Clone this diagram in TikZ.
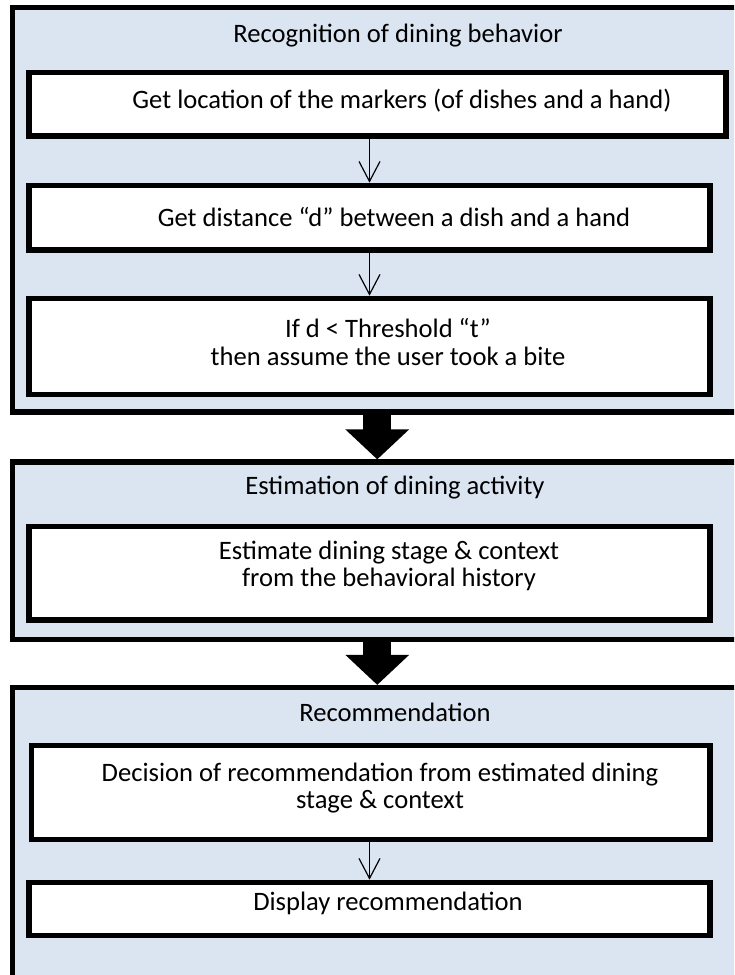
\documentclass[tikz,border=0pt]{standalone}
\usepackage{fontspec}
\setmainfont{Carlito}
\usetikzlibrary{arrows.meta}
\definecolor{panelblue}{RGB}{219,229,241}

\begin{document}
\begin{tikzpicture}[x=0.5pt,y=-0.5pt,
    panel/.style={draw=black, line width=2.6pt, fill=panelblue, inner sep=0pt},
    stepbox/.style={draw=black, line width=2.8pt, fill=white, inner sep=0pt},
    title/.style={font=\fontsize{13.3}{13.5}\selectfont, inner sep=0pt},
    boxtext/.style={font=\fontsize{13.3}{13.5}\selectfont, align=center, inner sep=0pt},
    flow/.style={-{Straight Barb[length=10pt,width=10.5pt]}, line width=0.6pt},
    bigflow/.style={-{Triangle[length=15pt,width=31pt]}, line width=14pt}]
    \useasboundingbox (0,0) rectangle (734,975);
    \clip (0,0) rectangle (734,975);

    % Paineis (a borda direita sai da figura)
    \node[panel, minimum width=364.75pt, minimum height=202.25pt] (recog) at (377.25,209.75) {};
    \node[panel, minimum width=364.75pt, minimum height=88.75pt] (estim) at (377.25,550.75) {};
    \node[panel, minimum width=364.75pt, minimum height=160pt] (recom) at (377.25,847.5) {};

    % Titulos
    \node[title] (recogtitle) at (398,36) {Recognition of dining behavior};
    \node[title] (estimtitle) at (395,488) {Estimation of dining activity};
    \node[title] (recomtitle) at (395,712) {Recommendation};

    % Caixas
    \node[stepbox, minimum width=348.5pt, minimum height=31.75pt] (markers) at (377.5,104.25) {};
    \node[stepbox, minimum width=340.5pt, minimum height=32.25pt] (distance) at (369.5,217.75) {};
    \node[stepbox, minimum width=340.5pt, minimum height=48pt] (threshold) at (369.5,346.5) {};
    \node[stepbox, minimum width=340.5pt, minimum height=46.75pt] (stage) at (369.5,573.25) {};
    \node[stepbox, minimum width=339.25pt, minimum height=47pt] (decision) at (370.75,792.5) {};
    \node[stepbox, minimum width=340.5pt, minimum height=26.5pt] (display) at (369.5,909) {};

    % Textos das caixas
    \node[boxtext] (markerstext) at (402,101) {Get location of the markers (of dishes and a hand)};
    \node[boxtext] (distancetext) at (394,217) {Get distance “d” between a dish and a hand};
    \node[boxtext] (thresholdtext) at (388,342) {If d < Threshold “t”\\then assume the user took a bite};
    \node[boxtext] (stagetext) at (389,566) {Estimate dining stage \& context\\from the behavioral history};
    \node[boxtext] (decisiontext) at (380,788) {Decision of recommendation from estimated dining\\stage \& context};
    \node[boxtext] (displaytext) at (388,903) {Display recommendation};

    % Setas finas
    \draw[flow] (distance.north |- markers.south) -- (distance.north);
    \draw[flow] (distance.south) -- (threshold.north);
    \draw[flow] (display.north |- decision.south) -- (display.north);

    % Setas grossas entre os paineis
    \draw[bigflow] (recog.south) -- (estim.north);
    \draw[bigflow] (estim.south) -- (recom.north);
\end{tikzpicture}
\end{document}
